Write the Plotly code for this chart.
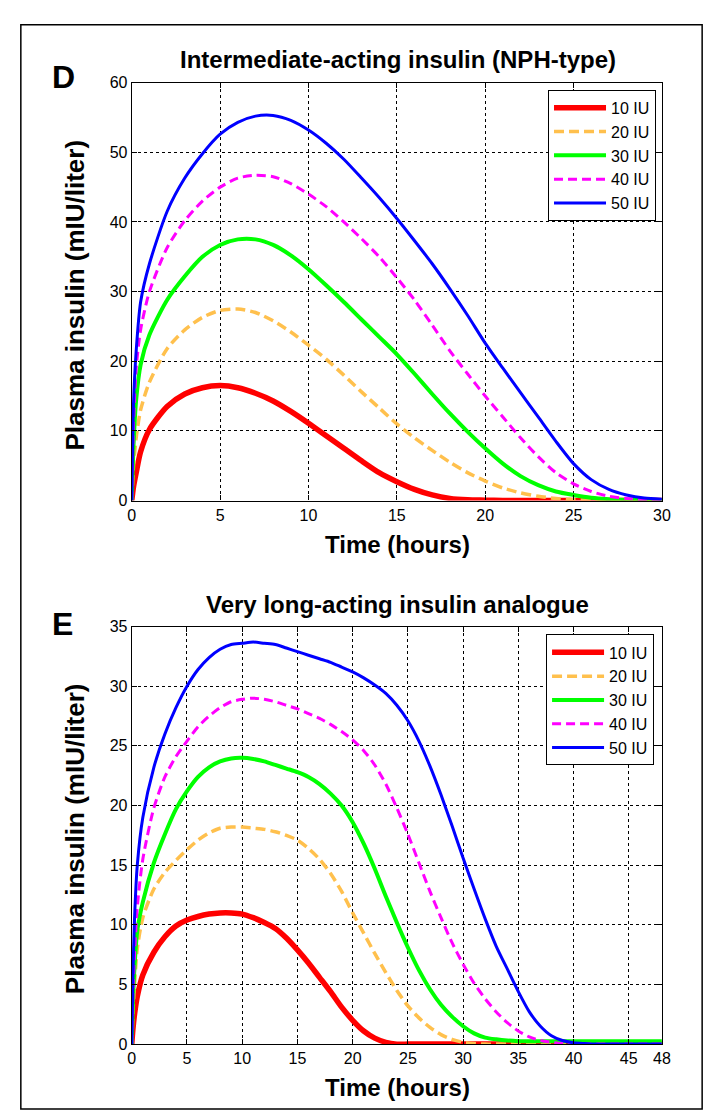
import plotly.graph_objects as go

W, H = 711, 1118

# ---------------- Data ----------------
series_names = ["10 IU", "20 IU", "30 IU", "40 IU", "50 IU"]

# Panel D: Intermediate-acting insulin (NPH-type)
time_d = [0, 0.1, 0.25, 0.5, 1, 2, 3, 4, 5, 6, 7, 8, 9, 10, 11, 12, 13, 14, 15,
          16, 17, 18, 19, 20, 21, 22, 23, 24, 25, 26, 27, 28, 29, 30]
d_10 = [0, 2.0, 4.0, 7.0, 10.2, 13.5, 15.3, 16.2, 16.5, 16.2, 15.4, 14.3, 12.8, 11.1, 9.3, 7.5,
        5.7, 4.0, 2.7, 1.6, 0.8, 0.3, 0.1, 0.05, 0, 0, 0, 0, 0, 0, 0, 0, 0, 0]
d_20 = [0, 5.0, 9.0, 13.0, 17.0, 21.8, 24.5, 26.3, 27.3, 27.5, 27.0, 25.8, 24.2, 22.3, 20.3, 18.0,
        15.6, 13.3, 11.0, 9.0, 7.2, 5.5, 4.0, 2.8, 1.8, 1.1, 0.6, 0.3, 0.1, 0.05, 0, 0, 0, 0]
d_30 = [0, 8.0, 14.5, 19.5, 23.8, 28.8, 32.2, 35.0, 36.7, 37.5, 37.5, 36.7, 35.2, 33.2, 30.9, 28.5,
        26.0, 23.5, 21.0, 18.2, 15.3, 12.5, 9.9, 7.5, 5.3, 3.5, 2.2, 1.3, 0.8, 0.4, 0.2, 0.1, 0.05, 0]
d_40 = [0, 11.0, 19.0, 24.5, 30.0, 36.3, 40.2, 43.0, 45.0, 46.3, 46.7, 46.5, 45.5, 44.0, 42.2, 40.0,
        37.6, 35.0, 32.0, 28.8, 25.2, 21.5, 18.2, 15.0, 12.0, 9.0, 6.3, 4.0, 2.4, 1.3, 0.6, 0.3, 0.1, 0]
d_50 = [0, 14.0, 21.5, 28.5, 34.0, 41.5, 46.3, 49.8, 52.6, 54.3, 55.2, 55.3, 54.6, 53.2, 51.3, 49.0,
        46.3, 43.5, 40.5, 37.3, 34.0, 30.4, 26.6, 22.6, 19.0, 15.5, 12.0, 8.5, 5.3, 3.0, 1.6, 0.8, 0.35, 0.2]

# Panel E: Very long-acting insulin analogue
time_e = [0, 0.1, 0.25, 0.5] + list(range(1, 49))
e_10 = [0, 1.2, 2.5, 4.0, 5.8, 7.7, 9.0, 9.9, 10.4, 10.7, 10.9, 11.0, 11.0, 10.9, 10.6, 10.2,
        9.7, 8.9, 7.9, 6.8, 5.6, 4.4, 3.1, 2.0, 1.1, 0.5, 0.15, 0] + [0] * 24
e_20 = [0, 2.5, 5.0, 8.0, 10.6, 13.0, 14.4, 15.4, 16.3, 17.1, 17.7, 18.1, 18.2, 18.2, 18.1, 18.0,
        17.8, 17.5, 17.1, 16.4, 15.5, 14.3, 12.8, 11.0, 9.3, 7.6, 6.0, 4.5, 3.2, 2.2, 1.4, 0.8,
        0.4, 0.15, 0.05] + [0] * 17
e_30 = [0, 3.5, 6.5, 9.5, 11.9, 15.2, 17.6, 19.7, 21.2, 22.4, 23.2, 23.7, 23.95, 24.0, 23.9, 23.7,
        23.4, 23.1, 22.8, 22.4, 21.8, 21.0, 20.0, 18.6, 16.8, 14.7, 12.4, 10.2, 8.1, 6.2, 4.6, 3.3,
        2.3, 1.5, 0.9, 0.55, 0.4, 0.3, 0.25, 0.25] + [0.25] * 12
e_40 = [0, 4.0, 7.5, 11.5, 15.5, 19.8, 22.4, 24.1, 25.4, 26.6, 27.5, 28.2, 28.7, 28.9, 29.0, 28.9,
        28.7, 28.4, 28.1, 27.7, 27.3, 26.8, 26.2, 25.5, 24.6, 23.4, 21.8, 19.8, 17.6, 15.2, 12.8,
        10.6, 8.5, 6.7, 5.1, 3.8, 2.7, 1.8, 1.1, 0.6, 0.3, 0.15, 0.05, 0] + [0] * 8
e_50 = [0, 5.5, 10.5, 15.0, 19.0, 23.2, 26.0, 28.2, 30.0, 31.4, 32.4, 33.1, 33.5, 33.6, 33.7, 33.6,
        33.5, 33.2, 32.9, 32.6, 32.3, 32.0, 31.6, 31.2, 30.7, 30.1, 29.4, 28.4, 27.1, 25.4, 23.3,
        20.9, 18.3, 15.6, 13.0, 10.5, 8.2, 6.3, 4.4, 2.7, 1.5, 0.7, 0.3, 0.12, 0.05, 0] + [0] * 6

ticks_d_x = [0, 5, 10, 15, 20, 25, 30]
ticks_d_y = [0, 10, 20, 30, 40, 50, 60]
ticks_e_x = [0, 5, 10, 15, 20, 25, 30, 35, 40, 45, 48]
ticks_e_y = [0, 5, 10, 15, 20, 25, 30, 35]

# ---------------- Styles ----------------
colors = ["#FF0000", "#FFC04D", "#00FF00", "#FF00FF", "#0000FF"]
widths = [5.5, 3.5, 4, 3, 3]
dashes = ["solid", "10px,5px", "solid", "9px,5px", "solid"]


def px(x):
    return x / W


def py(y):
    return 1 - y / H


fig = go.Figure()

panels = [
    (time_d, [d_10, d_20, d_30, d_40, d_50], "x", "y", "legend"),
    (time_e, [e_10, e_20, e_30, e_40, e_50], "x2", "y2", "legend2"),
]
for t, vals, xa, ya, lg in panels:
    for name, v, c, w, dsh in zip(series_names, vals, colors, widths, dashes):
        fig.add_trace(go.Scatter(
            x=t, y=v, mode="lines", name=name,
            line=dict(color=c, width=w, dash=dsh, shape="spline", smoothing=0.7),
            xaxis=xa, yaxis=ya, legend=lg,
        ))

font = "Arial, Liberation Sans, sans-serif"
axis_common = dict(
    showline=True, linecolor="black", linewidth=1.2, mirror="allticks",
    ticks="inside", ticklen=5, tickcolor="black",
    showgrid=True, gridcolor="black", gridwidth=1, griddash="3px,3px",
    zeroline=False, tickfont=dict(family=font, size=16, color="black"),
)

xd0, xd1 = px(122), px(662)
leg_common = dict(xanchor="left", yanchor="top", bgcolor="white",
                  bordercolor="black", borderwidth=1,
                  font=dict(family=font, size=16, color="black"), itemwidth=52)
fig.update_layout(
    width=W, height=H,
    margin=dict(l=0, r=0, t=0, b=0),
    paper_bgcolor="white", plot_bgcolor="white",
    xaxis=dict(domain=[xd0, xd1], range=[0, 30], tickvals=ticks_d_x, anchor="y", **axis_common),
    yaxis=dict(domain=[py(492), py(67.7)], range=[0, 60], tickvals=ticks_d_y, anchor="x", **axis_common),
    xaxis2=dict(domain=[xd0, xd1], range=[0, 48], tickvals=ticks_e_x, anchor="y2", **axis_common),
    yaxis2=dict(domain=[py(1044), py(620)], range=[0, 35], tickvals=ticks_e_y, anchor="x2", **axis_common),
    legend=dict(x=px(546), y=py(75), **leg_common),
    legend2=dict(x=px(544), y=py(628), **leg_common),
    showlegend=True,
)

title_f = dict(family=font, size=24, color="black")
label_f = dict(family=font, size=24, color="black")
ylab_f = dict(family=font, size=26, color="black")
letter_f = dict(family=font, size=32, color="black")
annots = [
    ("<b>Intermediate-acting insulin (NPH-type)</b>", 393, 44, 0, title_f),
    ("<b>Very long-acting insulin analogue</b>", 393, 598, 0, title_f),
    ("<b>D</b>", 52, 62, 0, letter_f),
    ("<b>E</b>", 51, 617, 0, letter_f),
    ("<b>Time (hours)</b>", 393, 537, 0, label_f),
    ("<b>Time (hours)</b>", 393, 1088, 0, label_f),
    ("<b>Plasma insulin (mIU/liter)</b>", 64, 283, -90, ylab_f),
    ("<b>Plasma insulin (mIU/liter)</b>", 64, 835, -90, ylab_f),
]
for text, x, y, ang, f in annots:
    fig.add_annotation(text=text, x=px(x), y=py(y), xref="paper", yref="paper",
                       xanchor="center", yanchor="middle", showarrow=False,
                       textangle=ang, font=f)

# outer frame of the figure
fig.add_shape(type="rect", xref="paper", yref="paper",
              x0=px(9), x1=px(703), y0=py(1110), y1=py(9),
              line=dict(color="black", width=1.5))

fig.write_html("out.html")
